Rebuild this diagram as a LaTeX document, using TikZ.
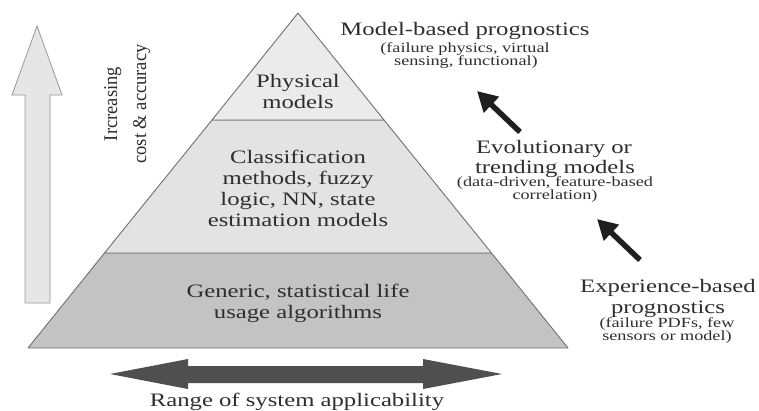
\documentclass[tikz,border=0pt]{standalone}
\usepackage{fontspec}
\setmainfont[FakeStretch=1.3]{Liberation Serif}
\newfontfamily\plainserif[FakeStretch=0.95]{Liberation Serif}
\usetikzlibrary{arrows.meta}
\definecolor{topfill}{HTML}{EBEBEB}
\definecolor{midfill}{HTML}{E3E3E3}
\definecolor{basefill}{HTML}{C3C3C3}
\definecolor{edgegray}{HTML}{707070}
\definecolor{txtgray}{HTML}{2E2E2E}
\definecolor{bigarrow}{HTML}{4F4F4F}
\definecolor{uparrow}{HTML}{E6E6E6}
\tikzset{
  layer/.style={draw=edgegray, line width=0.9pt, line join=round},
  bigtext/.style={text=txtgray, anchor=base, inner sep=0pt, font=\fontsize{19}{21}\selectfont},
  subtext/.style={text=txtgray, anchor=base, inner sep=0pt, font=\fontsize{14}{13.5}\selectfont},
  sidetext/.style={text=txtgray, anchor=base, inner sep=0pt, rotate=90, font=\plainserif\fontsize{19.5}{29}\selectfont},
  trendarrow/.style={-{Triangle[length=20pt,width=21pt]}, line width=5.5pt, black!88},
}
\begin{document}
\begin{tikzpicture}[x=1pt,y=-1pt]
\useasboundingbox[fill=white] (0,0) rectangle (759,410);
% pyramid
\coordinate (apex) at (298,13);
\filldraw[layer, fill=basefill] (104.5,253) -- (491.5,253) -- (568,348) -- (28,348) -- cycle;
\filldraw[layer, fill=midfill] (212,120) -- (384,120) -- (491.5,253) -- (104.5,253) -- cycle;
\filldraw[layer, fill=topfill] (apex) -- (384,120) -- (212,120) -- cycle;
% left vertical arrow
\filldraw[draw=gray!80, line width=0.8pt, fill=uparrow, line join=miter]
  (37,26) -- (62,95) -- (50,95) -- (50,303) -- (25,303) -- (25,95) -- (12,95) -- cycle;
% bottom double arrow
\fill[bigarrow] (110,374) -- (188,359) -- (188,366) -- (423,366) -- (423,359) -- (502,374)
  -- (423,389) -- (423,383) -- (188,383) -- (188,389) -- cycle;
% texts in pyramid
\node[bigtext] (phys1) at (298,87) {Physical};
\node[bigtext] (phys2) at (298,108) {models};
\node[bigtext] (class1) at (298,163) {Classification};
\node[bigtext] (class2) at (298,184) {methods, fuzzy};
\node[bigtext] (class3) at (298,205) {logic, NN, state};
\node[bigtext] (class4) at (298,226) {estimation models};
\node[bigtext] (gen1) at (298,297) {Generic, statistical life};
\node[bigtext] (gen2) at (298,318) {usage algorithms};
% side label
\node[sidetext] (cost1) at (117,104) {Ircreasing};
\node[sidetext] (cost2) at (146,104) {cost \& accuracy};
% bottom label
\node[bigtext] (range) at (297,406) {Range of system applicability};
% right labels
\node[bigtext] (model) at (465,35) {Model-based prognostics};
\node[subtext] (modelsub1) at (465,52) {(failure physics, virtual};
\node[subtext] (modelsub2) at (466,65) {sensing, functional)};
\node[bigtext] (evo1) at (554,153) {Evolutionary or};
\node[bigtext] (evo2) at (555,173) {trending models};
\node[subtext] (evosub1) at (555,186) {(data-driven, feature-based};
\node[subtext] (evosub2) at (555,199) {correlation)};
\node[bigtext] (exp1) at (668,292) {Experience-based};
\node[bigtext] (exp2) at (668,313) {prognostics};
\node[subtext] (expsub1) at (667,327) {(failure PDFs, few};
\node[subtext] (expsub2) at (667,340) {sensors or model)};
% trend arrows
\coordinate (a1s) at (520,132);
\coordinate (a1e) at (477,91);
\coordinate (a2s) at (640,260);
\coordinate (a2e) at (597,219);
\draw[trendarrow] (a1s) -- (a1e);
\draw[trendarrow] (a2s) -- (a2e);
\end{tikzpicture}
\end{document}
